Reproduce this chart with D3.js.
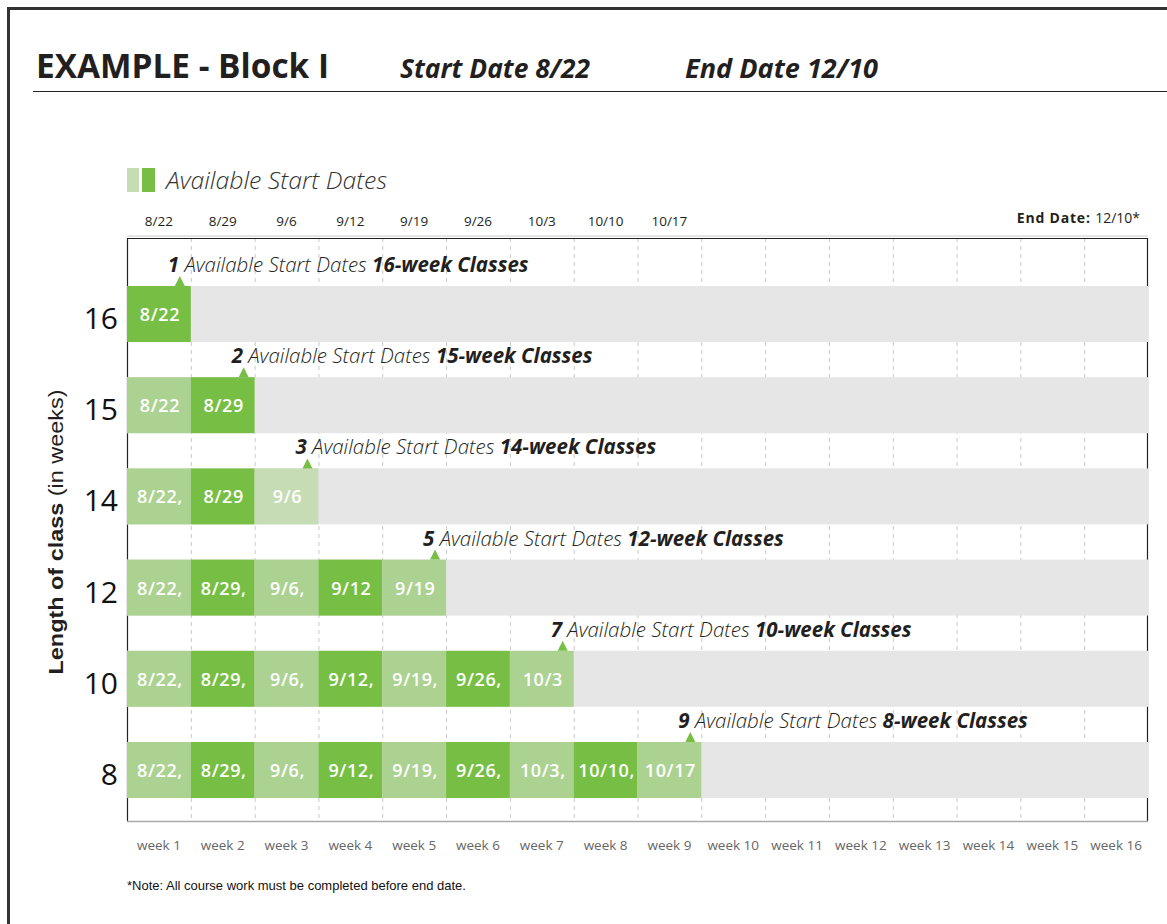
<!DOCTYPE html>
<html>
<head>
<meta charset="utf-8">
<script src="https://cdn.jsdelivr.net/npm/d3@7"></script>
<style>
  body { margin: 0; background: #fff; }
  svg text { font-family: "Open Sans", "Noto Sans", sans-serif; }
</style>
</head>
<body>
<svg id="drawing_region"></svg>
<script>
// weeks along the bottom, start dates along the top
const weekLabels = ['week 1', 'week 2', 'week 3', 'week 4', 'week 5', 'week 6', 'week 7', 'week 8',
    'week 9', 'week 10', 'week 11', 'week 12', 'week 13', 'week 14', 'week 15', 'week 16'];
const startDates = ['8/22', '8/29', '9/6', '9/12', '9/19', '9/26', '10/3', '10/10', '10/17'];

// one row per class length
const classLengths = [16, 15, 14, 12, 10, 8];
const startCounts = [1, 2, 3, 5, 7, 9];
const cellLabels = [
    ['8/22'],
    ['8/22', '8/29'],
    ['8/22,', '8/29', '9/6'],
    ['8/22,', '8/29,', '9/6,', '9/12', '9/19'],
    ['8/22,', '8/29,', '9/6,', '9/12,', '9/19,', '9/26,', '10/3'],
    ['8/22,', '8/29,', '9/6,', '9/12,', '9/19,', '9/26,', '10/3,', '10/10,', '10/17']
];

const config = {
    width: 1167,
    height: 924,
    left: 127,
    right: 1148,
    top: 238,
    bottom: 821
};

const dark = '#77bf44', light = '#acd291', pale = '#c6dcb4', track = '#e6e6e6';

const svg = d3.select('#drawing_region')
    .attr('width', config.width)
    .attr('height', config.height);

// page frame + title rule
svg.append('rect')
    .attr('x', 8.5).attr('y', 8.5)
    .attr('width', 1220).attr('height', 1000)
    .attr('fill', 'none').attr('stroke', '#333').attr('stroke-width', 3);

svg.append('line')
    .attr('x1', 33).attr('x2', 1167).attr('y1', 91.5).attr('y2', 91.5)
    .attr('stroke', '#222').attr('stroke-width', 1.2);

svg.append('text')
    .attr('x', 36).attr('y', 78)
    .attr('font-size', 34).attr('font-weight', 700).attr('fill', '#231f20')
    .attr('textLength', 293).attr('lengthAdjust', 'spacingAndGlyphs')
    .text('EXAMPLE - Block I');

svg.append('text')
    .attr('x', 400).attr('y', 78)
    .attr('font-size', 27).attr('font-weight', 700).attr('font-style', 'italic').attr('fill', '#231f20')
    .attr('textLength', 190).attr('lengthAdjust', 'spacingAndGlyphs')
    .text('Start Date 8/22');

svg.append('text')
    .attr('x', 685).attr('y', 78)
    .attr('font-size', 27).attr('font-weight', 700).attr('font-style', 'italic').attr('fill', '#231f20')
    .attr('textLength', 193).attr('lengthAdjust', 'spacingAndGlyphs')
    .text('End Date 12/10');

// legend
svg.append('rect').attr('x', 127).attr('y', 168).attr('width', 12).attr('height', 24).attr('fill', pale);
svg.append('rect').attr('x', 142).attr('y', 168).attr('width', 13).attr('height', 24).attr('fill', dark);
svg.append('text')
    .attr('x', 166).attr('y', 189)
    .attr('font-size', 24).attr('font-weight', 300).attr('font-style', 'italic').attr('fill', '#333')
    .attr('textLength', 221).attr('lengthAdjust', 'spacingAndGlyphs')
    .text('Available Start Dates');

// scales
const xscale = d3.scaleBand()
    .domain(weekLabels)
    .range([config.left, config.right]);

const yscale = d3.scaleBand()
    .domain(classLengths)
    .range([286, 798])
    .paddingInner(0.386);

const bw = xscale.bandwidth();

// grid
const chart = svg.append('g');

chart.selectAll('.grid')
    .data(weekLabels.slice(1))
    .join('line')
    .attr('class', 'grid')
    .attr('x1', d => xscale(d) + 0.5).attr('x2', d => xscale(d) + 0.5)
    .attr('y1', config.top).attr('y2', config.bottom)
    .attr('stroke', '#c8c8c8').attr('stroke-width', 1)
    .attr('stroke-dasharray', '4,4');

// frame of chart
chart.append('line')
    .attr('x1', config.left).attr('x2', config.right)
    .attr('y1', config.top - 2).attr('y2', config.top - 2)
    .attr('stroke', '#ccc').attr('stroke-width', 1);
chart.append('line')
    .attr('x1', config.left).attr('x2', config.right)
    .attr('y1', config.top + 0.5).attr('y2', config.top + 0.5)
    .attr('stroke', '#222').attr('stroke-width', 1.2);
chart.append('line')
    .attr('x1', config.left + 0.5).attr('x2', config.left + 0.5)
    .attr('y1', config.top).attr('y2', config.bottom)
    .attr('stroke', '#222').attr('stroke-width', 1.2);
chart.append('line')
    .attr('x1', config.right - 0.5).attr('x2', config.right - 0.5)
    .attr('y1', config.top).attr('y2', config.bottom)
    .attr('stroke', '#222').attr('stroke-width', 1.2);
chart.append('line')
    .attr('x1', config.left).attr('x2', config.right)
    .attr('y1', config.bottom + 0.5).attr('y2', config.bottom + 0.5)
    .attr('stroke', '#aaa').attr('stroke-width', 1.5);

// gray tracks
chart.selectAll('.track')
    .data(classLengths)
    .join('rect')
    .attr('class', 'track')
    .attr('x', config.left).attr('width', config.right - config.left)
    .attr('y', d => yscale(d)).attr('height', yscale.bandwidth())
    .attr('fill', track);

// start date cells
function cellColor(r, i) {
    if (cellLabels[r].length === 1) return dark;
    if (classLengths[r] === 14 && i === 2) return pale;
    return i % 2 ? dark : light;
}

const cells = [];
cellLabels.forEach((labels, r) => {
    labels.forEach((label, i) => {
        cells.push({ row: r, len: classLengths[r], week: weekLabels[i], label: label, color: cellColor(r, i) });
    });
});

chart.selectAll('.cell')
    .data(cells)
    .join('rect')
    .attr('class', 'cell')
    .attr('x', d => xscale(d.week))
    .attr('width', bw)
    .attr('y', d => yscale(d.len))
    .attr('height', yscale.bandwidth())
    .attr('fill', d => d.color);

chart.selectAll('.cell-label')
    .data(cells)
    .join('text')
    .attr('class', 'cell-label')
    .attr('x', d => xscale(d.week) + bw / 2 + 1)
    .attr('y', d => yscale(d.len) + yscale.bandwidth() / 2 + 7)
    .attr('text-anchor', 'middle')
    .attr('font-size', 18).attr('font-weight', 600).attr('fill', '#fff')
    .attr('letter-spacing', 0.6)
    .text(d => d.label);

// annotations
const notes = classLengths.map((len, r) => {
    const endX = xscale(weekLabels[startCounts[r] - 1]) + bw;
    return { len: len, count: startCounts[r], tx: endX - 11 };
});

chart.selectAll('.marker')
    .data(notes)
    .join('path')
    .attr('class', 'marker')
    .attr('d', d => {
        const y0 = yscale(d.len);
        return `M${d.tx - 5},${y0} L${d.tx},${y0 - 10} L${d.tx + 5},${y0} Z`;
    })
    .attr('fill', dark);

const noteText = chart.selectAll('.note')
    .data(notes)
    .join('text')
    .attr('class', 'note')
    .attr('x', d => d.tx - 12)
    .attr('y', d => yscale(d.len) - 14)
    .attr('font-size', 20.5).attr('fill', '#231f20');

noteText.append('tspan')
    .attr('font-weight', 700).attr('font-style', 'italic')
    .text(d => d.count + ' ');
noteText.append('tspan')
    .attr('font-weight', 300).attr('font-style', 'italic')
    .text('Available Start Dates ');
noteText.append('tspan')
    .attr('font-weight', 700).attr('font-style', 'italic')
    .text(d => d.len + '-week Classes');

// top date labels
svg.append('g')
    .selectAll('text')
    .data(startDates)
    .join('text')
    .attr('x', (d, i) => xscale(weekLabels[i]) + bw / 2)
    .attr('y', 226)
    .attr('text-anchor', 'middle')
    .attr('font-size', 13.5).attr('fill', '#231f20')
    .text(d => d);

const endLabel = svg.append('text')
    .attr('x', 1140).attr('y', 223)
    .attr('text-anchor', 'end')
    .attr('font-size', 14).attr('fill', '#231f20');
endLabel.append('tspan').attr('font-weight', 700).attr('letter-spacing', 0.8).text('End Date:  ');
endLabel.append('tspan').text('12/10*');

// week axis
const xaxis = d3.axisBottom(xscale).tickSize(0).tickPadding(0);
svg.append('g')
    .attr('transform', `translate(0, ${config.bottom + 19})`)
    .call(xaxis)
    .call(g => g.select('.domain').remove())
    .selectAll('text')
    .attr('font-size', 13.5).attr('fill', '#666')
    .attr('font-family', '"Open Sans", sans-serif');

// length axis
const yaxis = d3.axisLeft(yscale).tickSize(0).tickPadding(9);
svg.append('g')
    .attr('transform', `translate(${config.left}, 0)`)
    .call(yaxis)
    .call(g => g.select('.domain').remove())
    .selectAll('text')
    .attr('font-size', 30).attr('fill', '#111')
    .attr('dy', '0.5em')
    .attr('font-family', '"Open Sans", sans-serif');

const ytitle = svg.append('text')
    .attr('transform', 'translate(63, 532) rotate(-90)')
    .attr('text-anchor', 'middle')
    .attr('font-size', 21).attr('fill', '#231f20')
    .attr('textLength', 285).attr('lengthAdjust', 'spacingAndGlyphs')
    .style('font-family', '"Liberation Sans", Arial, sans-serif');
ytitle.append('tspan').attr('font-weight', 700).text('Length of class');
ytitle.append('tspan').text(' (in weeks)');

// note
svg.append('text')
    .attr('x', 127).attr('y', 890)
    .attr('font-size', 13).attr('fill', '#111')
    .style('font-family', '"Liberation Sans", Arial, sans-serif')
    .text('*Note: All course work must be completed before end date.');
</script>
</body>
</html>
